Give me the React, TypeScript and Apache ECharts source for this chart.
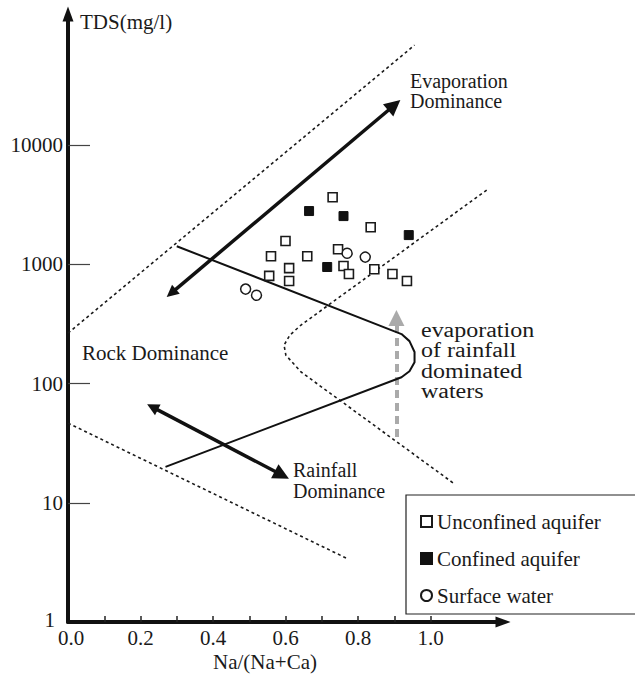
import React, { useEffect, useRef } from "react";
import * as echarts from "echarts";

// ---- axis ticks / labels ----
const xTickValues = [0.1, 0.2, 0.3, 0.4, 0.5, 0.6, 0.7, 0.8, 0.9, 1.0];
const xLabelValues = [0, 0.2, 0.4, 0.6, 0.8, 1.0];
const yTickTDS = [10, 100, 1000, 10000];
const yLabelTDS = [1, 10, 100, 1000, 10000];

// ---- samples: Na/(Na+Ca), TDS (mg/l) ----
const unconfinedRatio = [0.73, 0.6, 0.56, 0.66, 0.745, 0.61, 0.555, 0.61, 0.76, 0.775, 0.845, 0.895, 0.935, 0.835];
const unconfinedTDS = [3660, 1570, 1170, 1170, 1340, 930, 800, 725, 970, 830, 910, 830, 725, 2050];
const confinedRatio = [0.665, 0.76, 0.94, 0.715];
const confinedTDS = [2800, 2540, 1760, 950];
const surfaceRatio = [0.49, 0.52, 0.77, 0.82];
const surfaceTDS = [620, 550, 1240, 1150];

// ---- Gibbs boundaries ----
const solidRatio = [0.3, 0.92, 0.942, 0.956, 0.956, 0.942, 0.92, 0.269];
const solidTDS = [1420, 260, 227, 184, 151, 127, 113, 20];
const upperDashRatio = [0, 0.956];
const upperDashTDS = [265, 69000];
const innerDashRatio = [1.155, 0.643, 0.612, 0.596, 0.601, 0.643, 1.066];
const innerDashTDS = [4200, 310, 255, 210, 173, 125, 14.4];
const lowerDashRatio = [0, 0.767];
const lowerDashTDS = [46.6, 3.44];

// ---- arrows ----
const evapArrowRatio = [0.285, 0.9];
const evapArrowTDS = [574, 21600];
const rainArrowRatio = [0.233, 0.59];
const rainArrowTDS = [63.5, 17.1];
const grayArrowRatio = [0.906, 0.906];
const grayArrowTDS = [35.6, 354];

const legendNames = ["Unconfined aquifer", "Confined aquifer", "Surface water"];

const FONT = '"Liberation Serif", "Times New Roman", serif';
const INK = "#1a1a1a";
const L = (v: number) => Math.log10(v);
const pts = (xs: number[], ys: number[]) => xs.map((x, i) => [x, L(ys[i])]);

export default function App() {
  const ref = useRef<HTMLDivElement>(null);
  useEffect(() => {
    if (!ref.current) return;
    const chart = echarts.init(ref.current, undefined, { renderer: "svg" });
    const dashStyle = { color: "#1a1a1a", width: 1.6, type: [3, 3] as number[] };
    chart.setOption({
      animation: false,
      backgroundColor: "#fff",
      grid: { left: 68, right: 132, top: 14, bottom: 52 },
      xAxis: {
        type: "value",
        min: 0,
        max: 1.2,
        interval: 0.1,
        axisLine: {
          lineStyle: { color: "#111", width: 4 },
          symbol: ["none", "triangle"],
          symbolSize: [11, 15],
        },
        axisTick: {
          inside: true,
          length: 6,
          customValues: xTickValues,
          lineStyle: { color: "#222", width: 1.5 },
        },
        axisLabel: {
          customValues: xLabelValues,
          formatter: (v: number) => (v === 0 ? "{z|0.0}" : v.toFixed(1)),
          rich: { z: { fontSize: 21, fontFamily: FONT, color: INK, padding: [0, 0, 0, 6] } },
          fontSize: 21,
          fontFamily: FONT,
          color: INK,
          margin: 5,
        },
        splitLine: { show: false },
      },
      yAxis: {
        type: "value",
        min: 0,
        max: 5.1,
        interval: 1,
        axisLine: {
          lineStyle: { color: "#111", width: 4 },
          symbol: ["none", "triangle"],
          symbolSize: [11, 15],
        },
        axisTick: {
          inside: true,
          length: 22,
          customValues: yTickTDS.map(L),
          lineStyle: { color: "#444", width: 1.2 },
        },
        axisLabel: {
          customValues: yLabelTDS.map(L),
          formatter: (v: number) => {
            const t = String(Math.round(Math.pow(10, v)));
            return v === 0 ? "{one|" + t + "}" : t;
          },
          rich: { one: { fontSize: 21, fontFamily: FONT, color: INK, padding: [0, 8, 4, 0] } },
          fontSize: 21,
          fontFamily: FONT,
          color: INK,
          margin: 5,
        },
        splitLine: { show: false },
      },
      legend: {
        orient: "vertical",
        left: 406,
        top: 495,
        padding: [16, 260, 8, 14],
        itemGap: 16,
        itemWidth: 11,
        itemHeight: 11,
        backgroundColor: "#fff",
        borderColor: "#222",
        borderWidth: 1.2,
        borderRadius: 0,
        textStyle: { fontSize: 21, fontFamily: FONT, color: INK },
        data: legendNames,
      },
      series: [
        {
          type: "line",
          data: pts(upperDashRatio, upperDashTDS),
          symbol: "none",
          lineStyle: dashStyle,
          silent: true,
        },
        {
          type: "line",
          data: pts(innerDashRatio, innerDashTDS),
          symbol: "none",
          lineStyle: dashStyle,
          silent: true,
        },
        {
          type: "line",
          data: pts(lowerDashRatio, lowerDashTDS),
          symbol: "none",
          lineStyle: dashStyle,
          silent: true,
        },
        {
          type: "line",
          data: pts(solidRatio, solidTDS),
          symbol: "none",
          lineStyle: { color: "#111", width: 2 },
          silent: true,
        },
        {
          type: "lines",
          coordinateSystem: "cartesian2d",
          symbol: ["triangle", "triangle"],
          symbolSize: [12, 16],
          lineStyle: { color: "#111", width: 3.5, opacity: 1 },
          data: [
            { coords: pts(evapArrowRatio, evapArrowTDS) },
            { coords: pts(rainArrowRatio, rainArrowTDS) },
          ],
          silent: true,
        },
        {
          type: "lines",
          coordinateSystem: "cartesian2d",
          symbol: ["none", "triangle"],
          symbolSize: [11, 16],
          lineStyle: { color: "#aaa", width: 4, type: [8, 5], opacity: 1 },
          data: [{ coords: pts(grayArrowRatio, grayArrowTDS) }],
          silent: true,
          z: 1,
        },
        {
          name: legendNames[0],
          type: "scatter",
          symbol: "rect",
          symbolSize: 9,
          itemStyle: { color: "#fff", borderColor: "#1a1a1a", borderWidth: 1.6, opacity: 1 },
          data: pts(unconfinedRatio, unconfinedTDS),
          z: 5,
        },
        {
          name: legendNames[1],
          type: "scatter",
          symbol: "rect",
          symbolSize: 9,
          itemStyle: { color: "#111", borderColor: "#111", borderWidth: 1, opacity: 1 },
          data: pts(confinedRatio, confinedTDS),
          z: 5,
        },
        {
          name: legendNames[2],
          type: "scatter",
          symbol: "circle",
          symbolSize: 10,
          itemStyle: { color: "#fff", borderColor: "#1a1a1a", borderWidth: 1.5, opacity: 1 },
          data: pts(surfaceRatio, surfaceTDS),
          z: 5,
        },
      ],
      graphic: [
        {
          type: "text",
          x: 80,
          y: 22,
          style: { text: "TDS(mg/l)", fontSize: 21, fontFamily: FONT, fill: INK, verticalAlign: "middle" },
        },
        {
          type: "text",
          x: 410,
          y: 91,
          style: {
            text: "Evaporation\nDominance",
            fontSize: 20,
            lineHeight: 20,
            fontFamily: FONT,
            fill: INK,
            verticalAlign: "middle",
          },
        },
        {
          type: "text",
          x: 82,
          y: 353,
          style: { text: "Rock Dominance", fontSize: 21, fontFamily: FONT, fill: INK, verticalAlign: "middle" },
        },
        {
          type: "text",
          x: 293,
          y: 480.5,
          style: {
            text: "Rainfall\nDominance",
            fontSize: 20,
            lineHeight: 21,
            fontFamily: FONT,
            fill: INK,
            verticalAlign: "middle",
          },
        },
        {
          type: "text",
          x: 421,
          y: 360.5,
          scaleX: 1.17,
          style: {
            text: "evaporation\nof rainfall\ndominated\nwaters",
            fontSize: 20.5,
            lineHeight: 20.5,
            fontFamily: FONT,
            fill: INK,
            verticalAlign: "middle",
          },
        },
        {
          type: "text",
          x: 265,
          y: 662,
          style: {
            text: "Na/(Na+Ca)",
            fontSize: 21,
            fontFamily: FONT,
            fill: INK,
            align: "center",
            verticalAlign: "middle",
          },
        },
      ],
    });
    return () => chart.dispose();
  }, []);
  return (
    <div
      ref={ref}
      style={{ position: "fixed", left: 0, top: 0, width: 635, height: 674, background: "#fff" }}
    />
  );
}
